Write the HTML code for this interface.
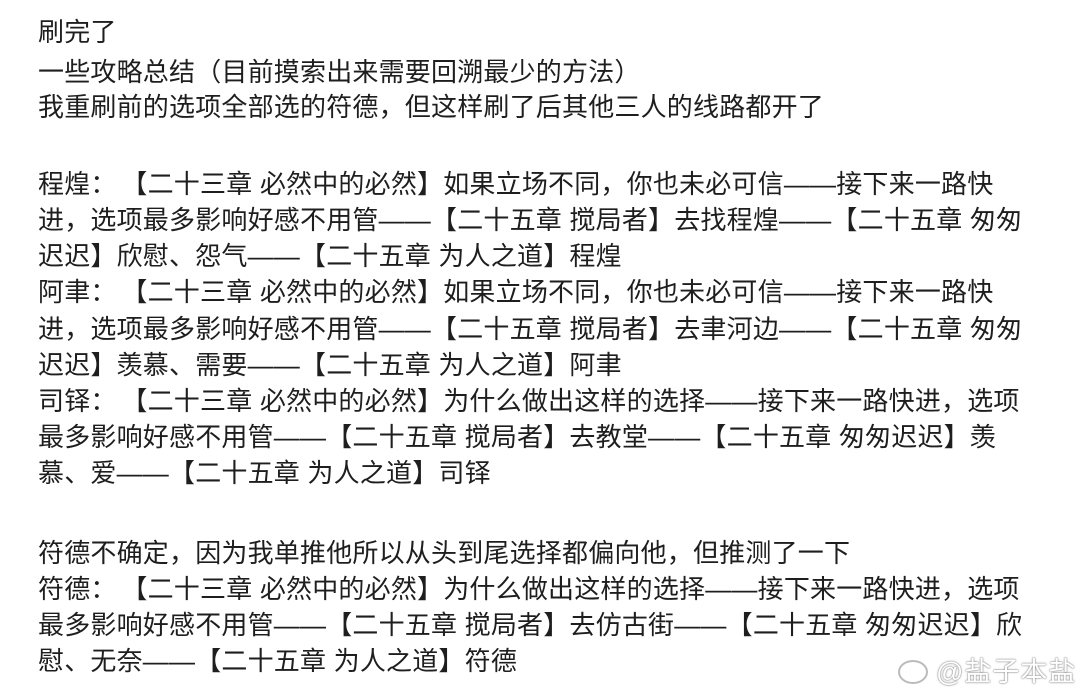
<!DOCTYPE html>
<html><head><meta charset="utf-8"><style>
body{margin:0;width:1080px;height:700px;background:#fff;overflow:hidden;position:relative;font-family:"Liberation Sans","Noto Sans CJK SC",sans-serif;color:#1e1e1e}
.l{position:absolute;left:38px;font-size:26px;line-height:36px;white-space:nowrap;letter-spacing:0.2px}
.c{display:inline-block;width:31px}
.wm{position:absolute;left:936px;top:650px;font-size:27px;color:#fff;text-shadow:0 0 2px #888,0 0 1px #666;white-space:nowrap;letter-spacing:1px}
.ic{position:absolute;left:898px;top:660px;width:26px;height:20px;border-radius:50%;border:2px solid #bbb}
</style></head><body>
<div class="l" style="top:14px">刷完了</div>
<div class="l" style="top:54px">一些攻略总结（目前摸索出来需要回溯最少的方法）</div>
<div class="l" style="top:89px">我重刷前的选项全部选的符德，但这样刷了后其他三人的线路都开了</div>
<div class="l" style="top:166px">程煌<span class="c">：</span>【二十三章 必然中的必然】如果立场不同，你也未必可信——接下来一路快</div>
<div class="l" style="top:202px">进，选项最多影响好感不用管——【二十五章 搅局者】去找程煌——【二十五章 匆匆</div>
<div class="l" style="top:238px">迟迟】欣慰、怨气——【二十五章 为人之道】程煌</div>
<div class="l" style="top:274px">阿聿<span class="c">：</span>【二十三章 必然中的必然】如果立场不同，你也未必可信——接下来一路快</div>
<div class="l" style="top:311px">进，选项最多影响好感不用管——【二十五章 搅局者】去聿河边——【二十五章 匆匆</div>
<div class="l" style="top:347px">迟迟】羡慕、需要——【二十五章 为人之道】阿聿</div>
<div class="l" style="top:383px">司铎<span class="c">：</span>【二十三章 必然中的必然】为什么做出这样的选择——接下来一路快进，选项</div>
<div class="l" style="top:419px">最多影响好感不用管——【二十五章 搅局者】去教堂——【二十五章 匆匆迟迟】羡</div>
<div class="l" style="top:455px">慕、爱——【二十五章 为人之道】司铎</div>
<div class="l" style="top:535px">符德不确定，因为我单推他所以从头到尾选择都偏向他，但推测了一下</div>
<div class="l" style="top:571px">符德<span class="c">：</span>【二十三章 必然中的必然】为什么做出这样的选择——接下来一路快进，选项</div>
<div class="l" style="top:607px">最多影响好感不用管——【二十五章 搅局者】去仿古街——【二十五章 匆匆迟迟】欣</div>
<div class="l" style="top:643px">慰、无奈——【二十五章 为人之道】符德</div>
<div class="ic"></div>
<div class="wm">@盐子本盐</div>
</body></html>
